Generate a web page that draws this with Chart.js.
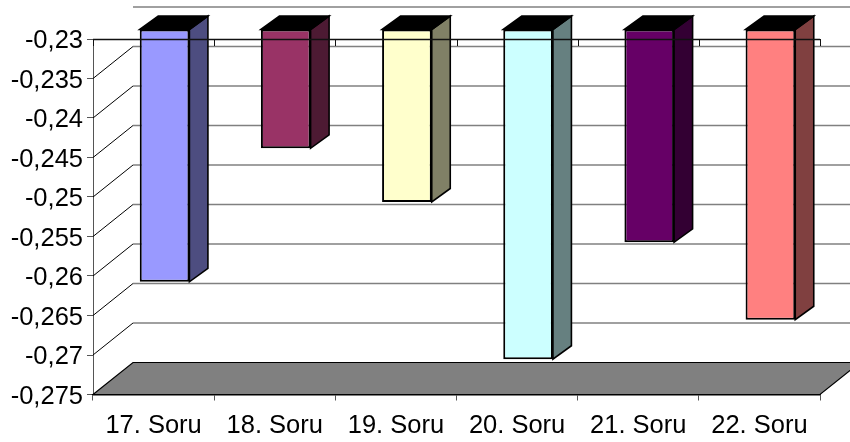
<!DOCTYPE html>
<html>
<head>
<meta charset="utf-8">
<style>html,body{margin:0;padding:0;background:#fff}canvas{display:block}</style>
<script src="https://cdn.jsdelivr.net/npm/chart.js@4"></script>
</head>
<body>
<canvas id="c" width="850" height="442"></canvas>
<script>
const categories = ["17. Soru","18. Soru","19. Soru","20. Soru","21. Soru","22. Soru"];
const values = [-0.262,-0.2451,-0.2519,-0.2718,-0.257,-0.2668];
const faceColors = ["#9999FF","#993366","#FFFFCC","#CCFFFF","#660066","#FF8080"];
const sideColors = ["#4D4D80","#4D1A33","#808066","#668080","#330033","#804040"];
const axisMin = -0.275, axisMax = -0.23, axisStep = 0.005;

const wallX = 40, wallY = -32;     // depth of the whole plot box
const barShiftX = 11, barShiftY = -10; // bars stand mid-depth
const barDepthX = 18.5, barDepthY = -13.5;

function line(ctx, x1, y1, x2, y2, color, w){
  ctx.strokeStyle = color; ctx.lineWidth = w;
  ctx.beginPath(); ctx.moveTo(x1,y1); ctx.lineTo(x2,y2); ctx.stroke();
}

const box3d = {
  id: 'box3d',
  beforeDraw(chart){
    const y = chart.scales.y;
    if (!y._shifted) {
      const orig = y.drawLabels;
      y.drawLabels = function(area){
        chart.ctx.save(); chart.ctx.translate(0, 2);
        orig.call(this, area);
        chart.ctx.restore();
      };
      y._shifted = true;
    }
  },
  beforeDatasetsDraw(chart){
    const {ctx, chartArea:a, scales:{y}} = chart;
    ctx.save();
    y.ticks.forEach(t => {
      const py = y.getPixelForValue(t.value);
      if (t.value <= axisMin + 1e-9) return;
      line(ctx, a.left + wallX, py + wallY, chart.width + 5, py + wallY, '#808080', 1.5);
      if (t.value < axisMax - 1e-9) line(ctx, a.left, py, a.left + wallX, py + wallY, '#000', 1);
    });
    ctx.beginPath();
    ctx.moveTo(a.left, a.bottom);
    ctx.lineTo(a.left + wallX, a.bottom + wallY);
    ctx.lineTo(a.right + wallX, a.bottom + wallY);
    ctx.lineTo(a.right, a.bottom);
    ctx.closePath();
    ctx.fillStyle = '#808080'; ctx.fill();
    ctx.strokeStyle = '#000'; ctx.lineWidth = 1.2; ctx.stroke();
    ctx.restore();
  },
  beforeDatasetDraw(chart, args){
    const {ctx} = chart;
    ctx.save();
    ctx.translate(barShiftX, barShiftY);
    chart.getDatasetMeta(args.index).data.forEach((bar, i) => {
      const {x, y, base, width} = bar.getProps(['x','y','base','width'], true);
      const r = x + width/2, l = x - width/2;
      ctx.lineJoin = 'miter';
      ctx.strokeStyle = '#000'; ctx.lineWidth = 1.6;
      ctx.beginPath();
      ctx.moveTo(r, base); ctx.lineTo(r + barDepthX, base + barDepthY);
      ctx.lineTo(r + barDepthX, y + barDepthY); ctx.lineTo(r, y); ctx.closePath();
      ctx.fillStyle = sideColors[i]; ctx.fill(); ctx.stroke();
      ctx.beginPath();
      ctx.moveTo(l, base); ctx.lineTo(l + barDepthX, base + barDepthY);
      ctx.lineTo(r + barDepthX, base + barDepthY); ctx.lineTo(r, base); ctx.closePath();
      ctx.fillStyle = '#000'; ctx.fill(); ctx.stroke();
    });
  },
  afterDatasetDraw(chart){ chart.ctx.restore(); },
  afterDatasetsDraw(chart){
    const {ctx, chartArea:a, scales:{x}} = chart;
    ctx.save();
    line(ctx, a.left, a.top + 0.5, a.right, a.top + 0.5, '#111', 1.3);
    const half = (x.getPixelForValue(1) - x.getPixelForValue(0)) / 2;
    categories.forEach((c, i) => {
      const px = Math.round(x.getPixelForValue(i) + half) + 0.5;
      line(ctx, px, a.top, px, a.top + 7, '#111', 1);
    });
    line(ctx, a.left + 0.5, a.top, a.left + 0.5, a.top + 7, '#111', 1);
    ctx.restore();
  }
};

new Chart(document.getElementById('c'), {
  type: 'bar',
  data: {
    labels: categories,
    datasets: [{
      data: values,
      base: axisMax,
      backgroundColor: faceColors,
      borderColor: '#000',
      borderWidth: 2,
      borderSkipped: false,
      barPercentage: 0.41,
      categoryPercentage: 1,
      clip: false
    }]
  },
  options: {
    responsive: false,
    animation: false,
    devicePixelRatio: 1,
    layout: { padding: { top: 39, right: 30, left: 0, bottom: 0 } },
    plugins: { legend: { display: false }, tooltip: { enabled: false }, title: { display: false } },
    scales: {
      x: {
        position: 'bottom',
        offset: true,
        afterFit: s => { s.height = 47.5; },
        grid: { offset: true, drawOnChartArea: false, drawTicks: true, tickLength: 6, color: '#555', lineWidth: 1 },
        border: { display: true, color: '#000', width: 1.5 },
        ticks: { color: '#000', padding: 10, maxRotation: 0, autoSkip: false,
                 font: { family: '"Liberation Sans"', size: 25.5 } }
      },
      y: {
        min: axisMin,
        max: axisMax,
        afterFit: s => { s.width = 93; },
        afterBuildTicks: s => {
          s.ticks = [];
          for (let i = 0; i <= 9; i++) s.ticks.push({ value: Number((axisMax - i * axisStep).toFixed(3)) });
        },
        grid: { drawOnChartArea: false, drawTicks: true, tickLength: 6, color: '#555', lineWidth: 1 },
        border: { display: true, color: '#555', width: 1 },
        ticks: { color: '#000', padding: 4, autoSkip: false,
                 callback: v => String(v).replace('.', ','),
                 font: { family: '"Liberation Sans"', size: 25.5 } }
      }
    }
  },
  plugins: [box3d]
});
</script>
</body>
</html>
